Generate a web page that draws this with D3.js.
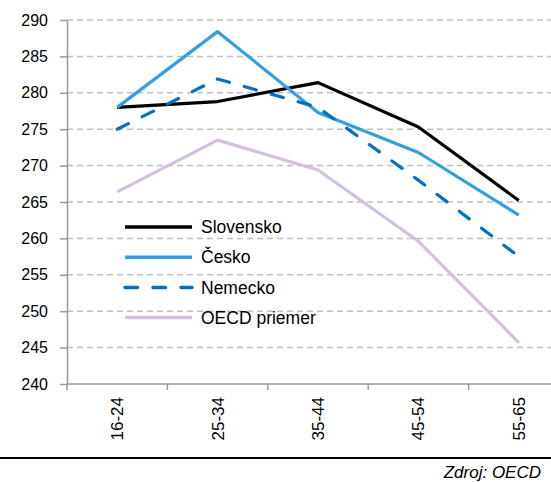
<!DOCTYPE html>
<html lang="sk">
<head>
<meta charset="UTF-8">
<title>Skóre podľa veku</title>
<script src="https://d3js.org/d3.v7.min.js"></script>
<style>
    body { margin: 0; background: #fff; }
    svg { display: block; font-family: "Liberation Sans", Arial, sans-serif; }
    .grid line { stroke: #c0c0c0; stroke-width: 1.5px; stroke-dasharray: 6,4; }
    .axis path, .axis line { stroke: #999; stroke-width: 1.5px; }
    .axis text { fill: #000; font-size: 16px; }
</style>
</head>
<body>
<svg width="551" height="482"></svg>
<script>
    const categories = ["16-24", "25-34", "35-44", "45-54", "55-65"];
    const slovensko = [278.0, 278.8, 281.4, 275.3, 265.2];
    const cesko = [278.0, 288.4, 277.3, 271.8, 263.2];
    const nemecko = [275.0, 281.9, 278.0, 268.0, 257.5];
    const oecd = [266.4, 273.5, 269.4, 259.6, 245.7];
    const yTicks = [240, 245, 250, 255, 260, 265, 270, 275, 280, 285, 290];

    const series = [
        {name: "Slovensko", values: slovensko, color: "#000000", dash: null},
        {name: "Česko", values: cesko, color: "#359fdd", dash: null},
        {name: "Nemecko", values: nemecko, color: "#0070c0", dash: "12.5,15.5"},
        {name: "OECD priemer", values: oecd, color: "#d5c0e0", dash: null}
    ];

    const svg = d3.select("svg");
    const plotLeft = 67, plotRight = 569, plotTop = 20, plotBottom = 384;

    const x = d3.scaleBand().domain(categories).range([plotLeft, plotRight]);
    const y = d3.scaleLinear().domain([240, 290]).range([plotBottom, plotTop]);

    // gridlines
    svg.append("g").attr("class", "grid")
        .selectAll("line").data(yTicks.slice(1)).join("line")
        .attr("x1", plotLeft).attr("x2", 551)
        .attr("y1", d => y(d)).attr("y2", d => y(d));

    // y axis
    svg.append("g").attr("class", "axis")
        .attr("transform", `translate(${plotLeft},0)`)
        .call(d3.axisLeft(y).tickValues(yTicks).tickSize(7).tickPadding(12).tickSizeOuter(0));

    // x axis
    const xAxis = svg.append("g").attr("class", "axis")
        .attr("transform", `translate(0,${plotBottom})`)
        .call(d3.axisBottom(x).tickSize(0).tickSizeOuter(0));
    xAxis.select(".domain").attr("d", `M${plotLeft},0H551`);
    xAxis.selectAll(".tick text")
        .attr("transform", "rotate(-90)")
        .attr("x", -13).attr("y", 0).attr("dy", "0.35em")
        .style("text-anchor", "end")
        .style("font-size", "17px");
    // boundary ticks between bands
    xAxis.selectAll(".bticks").data(categories).join("line")
        .attr("x1", d => x(d)).attr("x2", d => x(d))
        .attr("y1", 0).attr("y2", 6);

    const line = d3.line()
        .x((d, i) => x(categories[i]) + x.bandwidth() / 2)
        .y(d => y(d));

    // draw OECD first so others lie above
    [3, 0, 1, 2].forEach(k => {
        const s = series[k];
        svg.append("path")
            .attr("d", line(s.values))
            .attr("fill", "none")
            .attr("stroke", s.color)
            .attr("stroke-width", 3.2)
            .attr("stroke-linejoin", "round")
            .attr("stroke-linecap", s.dash ? "round" : "butt")
            .attr("stroke-dasharray", s.dash);
    });

    // legend
    const legend = svg.append("g").attr("transform", "translate(125,227)");
    series.forEach((s, i) => {
        const g = legend.append("g").attr("transform", `translate(0,${i * 30.2})`);
        g.append("line")
            .attr("x1", 0).attr("x2", 67)
            .attr("stroke", s.color)
            .attr("stroke-width", 3.5)
            .attr("stroke-linecap", s.dash ? "round" : "butt")
            .attr("stroke-dasharray", s.dash);
        g.append("text")
            .attr("x", 76).attr("dy", "0.35em")
            .style("font-size", "17.5px")
            .text(s.name);
    });

    // source
    svg.append("line")
        .attr("x1", 0).attr("x2", 551)
        .attr("y1", 458).attr("y2", 458)
        .attr("stroke", "#000").attr("stroke-width", 2);
    svg.append("text")
        .attr("x", 541).attr("y", 478)
        .attr("text-anchor", "end")
        .style("font-size", "17px").style("font-style", "italic")
        .text("Zdroj: OECD");
</script>
</body>
</html>
